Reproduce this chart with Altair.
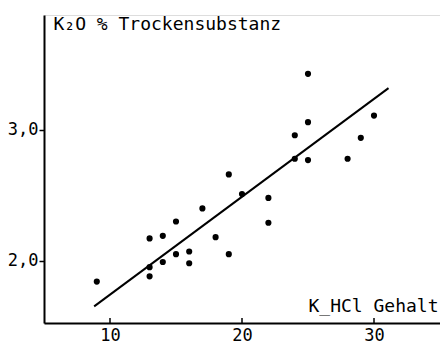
import altair as alt
import pandas as pd

# K-HCl content (x) and K2O % dry matter (y)
k_hcl = [9, 13, 13, 13, 14, 14, 15, 15, 16, 16, 17, 18, 19, 19, 20, 22, 22,
         24, 24, 25, 25, 25, 28, 29, 30]
k2o = [1.84, 2.17, 1.95, 1.88, 2.19, 1.99, 2.30, 2.05, 2.07, 1.98, 2.40, 2.18,
       2.66, 2.05, 2.51, 2.48, 2.29, 2.96, 2.78, 3.43, 3.06, 2.77, 2.78, 2.94, 3.11]

# regression line end points
line_x = [8.8, 31.1]
line_y = [1.65, 3.32]

x_ticks = [10, 20, 30]

pts = pd.DataFrame({"x": k_hcl, "y": k2o})
reg = pd.DataFrame({"x": line_x, "y": line_y})
tk = pd.DataFrame({"x": x_ticks})

FONT = "DejaVu Sans Mono"
xs = alt.Scale(domain=[5, 35], nice=False, zero=False)
ys = alt.Scale(domain=[1.523, 3.88], nice=False, zero=False)

xaxis = alt.Axis(values=x_ticks, title="K_HCl Gehalt", titleAngle=0,
                 titleAlign="right", titleBaseline="middle", titleX=394, titleY=-17,
                 titleFont=FONT, titleFontSize=18, titleFontWeight="normal",
                 labelFont=FONT, labelFontSize=17, labelPadding=4, ticks=False,
                 domainColor="black", domainWidth=2, labelColor="black", titleColor="black",
                 grid=False)
yaxis = alt.Axis(values=[2.0, 3.0], title="K₂O % Trockensubstanz", titleAngle=0,
                 titleAlign="left", titleBaseline="middle", titleX=9, titleY=9,
                 titleFont=FONT, titleFontSize=18, titleFontWeight="normal",
                 labelFont=FONT, labelFontSize=17, labelPadding=1, tickSize=5,
                 tickWidth=1.5, tickColor="black",
                 labelExpr="replace(format(datum.value, '.1f'), '.', ',')",
                 domainColor="black", domainWidth=2, labelColor="black", titleColor="black",
                 grid=False)

points = alt.Chart(pts).mark_circle(size=38, color="black", opacity=1).encode(
    x=alt.X("x:Q", scale=xs, axis=xaxis),
    y=alt.Y("y:Q", scale=ys, axis=yaxis),
)
line = alt.Chart(reg).mark_line(color="black", strokeWidth=2).encode(
    x=alt.X("x:Q", scale=xs), y=alt.Y("y:Q", scale=ys)
)
ticks = alt.Chart(tk).mark_rule(color="black", strokeWidth=1.5).encode(
    x=alt.X("x:Q", scale=xs), y=alt.value(303), y2=alt.value(308)
)

chart = alt.layer(points, line, ticks).properties(
    width=396, height=308,
    autosize=alt.AutoSizeParams(type="none"),
    padding={"left": 44, "top": 15, "right": 0, "bottom": 22},
).configure_view(stroke=None).configure(background="white")

chart.save("out.html", embed_options={"renderer": "svg", "actions": False})
